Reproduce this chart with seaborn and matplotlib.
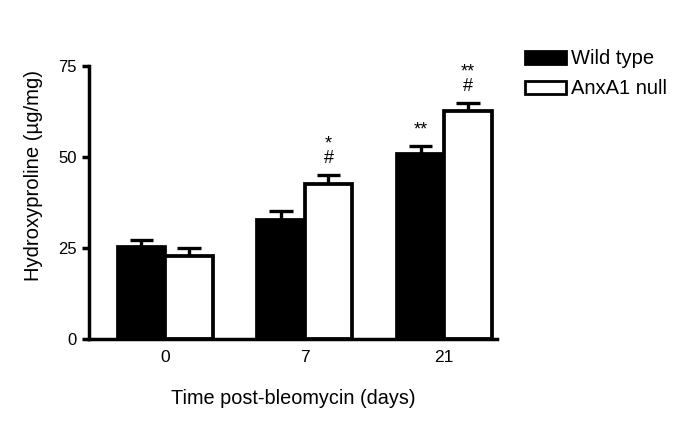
import numpy as np
import pandas as pd
import matplotlib
matplotlib.use("Agg")
import matplotlib.pyplot as plt
import seaborn as sns
from matplotlib.patches import Patch

days = ["0", "7", "21"]
groups = ["Wild type", "AnxA1 null"]
wild_type = [25.2, 32.8, 50.7]
wild_type_err = [1.9, 2.3, 2.2]
anxa1_null = [22.7, 42.7, 62.5]
anxa1_null_err = [2.4, 2.3, 2.4]
annotations = {("7", "AnxA1 null"): "*\n#", ("21", "Wild type"): "**", ("21", "AnxA1 null"): "**\n#"}

sns.set_theme(style="ticks", rc={"text.color": "black", "axes.labelcolor": "black",
                                 "xtick.color": "black", "ytick.color": "black",
                                 "axes.edgecolor": "black"})
plt.rcParams['font.family'] = ['Liberation Sans', 'DejaVu Sans']

df = pd.DataFrame({
    "day": days * 2,
    "group": [groups[0]] * 3 + [groups[1]] * 3,
    "value": wild_type + anxa1_null,
})

fig = plt.figure(figsize=(6.85, 4.34), dpi=100)
ax = fig.add_axes([0.130, 0.219, 0.596, 0.629])

sns.barplot(data=df, x="day", y="value", hue="group", order=days, hue_order=groups,
            palette=["black", "white"], edgecolor="black", linewidth=2.7,
            width=0.68, errorbar=None, ax=ax, legend=False)

lw = 2.4
for container, errs, vals in zip(ax.containers, [wild_type_err, anxa1_null_err], [wild_type, anxa1_null]):
    for bar, e, v in zip(container, errs, vals):
        xc = bar.get_x() + bar.get_width() / 2
        ax.plot([xc, xc], [v, v + e], color="black", lw=lw, zorder=1, solid_capstyle="butt")
        ax.plot([xc - 0.085, xc + 0.085], [v + e, v + e], color="black", lw=lw, zorder=1, solid_capstyle="butt")

for container, g, vals, errs in zip(ax.containers, groups, [wild_type, anxa1_null], [wild_type_err, anxa1_null_err]):
    for bar, d, v, e in zip(container, days, vals, errs):
        if (d, g) in annotations:
            xc = bar.get_x() + bar.get_width() / 2
            ax.text(xc, v + e + 2.2, annotations[(d, g)], ha="center", va="bottom",
                    fontsize=13, linespacing=0.8, color="black")

ax.set_xlim(-0.545, 2.38)
ax.set_ylim(0, 75)
ax.set_yticks([0, 25, 50, 75])
ax.tick_params(axis="y", direction="out", length=5, width=2.5, labelsize=12, pad=4)
ax.tick_params(axis="x", length=0, labelsize=12.5, pad=8)
for s in ["top", "right"]:
    ax.spines[s].set_visible(False)
for s in ["left", "bottom"]:
    ax.spines[s].set_linewidth(2.5)
ax.set_xlabel("Time post-bleomycin (days)", fontsize=14.3, labelpad=17)
ax.set_ylabel("Hydroxyproline (µg/mg)", fontsize=14.6)
ax.yaxis.set_label_coords(-0.112, 0.597)

handles = [Patch(facecolor="black", edgecolor="black", linewidth=2),
           Patch(facecolor="white", edgecolor="black", linewidth=2)]
fig.legend(handles, groups, loc="upper left", bbox_to_anchor=(0.755, 0.905), frameon=False,
           fontsize=14.5, handlelength=2.0, handleheight=0.6, handletextpad=0.25, labelspacing=0.55,
           borderaxespad=0)

fig.savefig("out.png", dpi=100, facecolor="white")
